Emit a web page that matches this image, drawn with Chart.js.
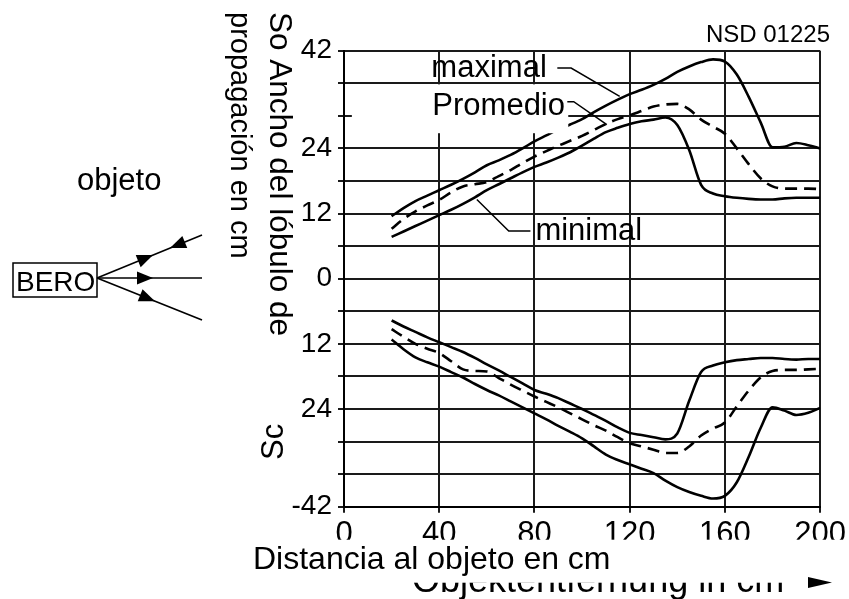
<!DOCTYPE html>
<html lang="es">
<head>
<meta charset="UTF-8">
<title>Ancho del lóbulo de propagación</title>
<script src="https://cdn.jsdelivr.net/npm/chart.js"></script>
<style>
  body { margin: 0; background: #fff; }
  #wrap { width: 849px; height: 599px; }
</style>
</head>
<body>
<div id="wrap"><canvas id="grafico" width="849" height="599"></canvas></div>
<script>
// distancia al objeto en cm (eje x)
const distancias = [20, 25, 30, 35, 40, 45, 50, 55, 60, 65, 70, 75, 80, 85, 90, 95, 100, 105, 110,
  115, 120, 125, 130, 135, 140, 145, 150, 155, 160, 165, 170, 175, 180, 185, 190, 195, 200];

// So: mitad superior
const maximalSo = [11.5, 13.0, 14.3, 15.3, 16.3, 17.3, 18.4, 19.6, 20.9, 21.8, 22.8, 24.0, 25.3, 26.4, 27.5, 28.4, 29.4, 30.7, 31.9,
  33.0, 34.0, 34.8, 35.7, 36.8, 38.1, 39.1, 39.9, 40.4, 40.0, 37.6, 33.5, 28.8, 24.2, 24.3, 25.0, 24.6, 24.0];
const promedioSo = [9.2, 11.0, 12.4, 13.5, 14.5, 15.9, 17.0, 17.4, 17.8, 18.9, 20.0, 21.3, 22.5, 23.5, 24.5, 25.4, 26.3, 27.4, 28.5,
  29.4, 30.1, 30.9, 31.7, 32.1, 32.2, 31.2, 29.3, 28.0, 26.7, 24.0, 21.1, 18.5, 17.0, 16.6, 16.6, 16.6, 16.5];
const minimalSo = [7.7, 8.7, 9.7, 10.7, 11.7, 12.7, 13.8, 15.0, 16.3, 17.4, 18.5, 19.6, 20.6, 21.4, 22.3, 23.3, 24.5, 25.8, 27.0,
  27.8, 28.5, 29.0, 29.3, 29.7, 28.3, 23.7, 17.3, 15.7, 15.2, 14.9, 14.7, 14.6, 14.6, 14.8, 14.9, 14.9, 14.9];

// Sc: mitad inferior
const minimalSc = [-7.7, -8.8, -9.8, -10.8, -11.7, -12.6, -13.5, -14.6, -15.8, -16.9, -18.1, -19.3, -20.5, -21.2, -22.0, -23.0, -24.0, -25.1, -26.2,
  -27.4, -28.4, -28.8, -29.2, -29.6, -28.5, -22.5, -17.2, -16.0, -15.4, -15.0, -14.8, -14.6, -14.6, -14.8, -14.9, -14.8, -14.8];
const promedioSc = [-9.3, -10.7, -12.0, -12.9, -13.7, -15.2, -16.7, -17.0, -17.1, -18.3, -19.5, -20.6, -21.7, -22.7, -23.7, -24.8, -25.9, -27.0, -28.0,
  -29.2, -30.3, -30.9, -31.5, -32.1, -32.1, -30.9, -28.9, -27.6, -26.5, -23.5, -20.6, -18.2, -17.0, -16.8, -16.8, -16.7, -16.6];
const maximalSc = [-11.2, -13.0, -14.5, -15.4, -16.2, -17.2, -18.2, -19.4, -20.5, -21.5, -22.6, -23.7, -24.8, -25.9, -27.1, -28.2, -29.4, -30.9, -32.4,
  -33.4, -34.2, -35.0, -35.8, -37.2, -38.4, -39.3, -40.0, -40.5, -40.0, -37.5, -32.8, -27.5, -23.7, -24.3, -25.1, -24.7, -23.8];

// etiquetas del eje y (las de abajo van sin signo, como en el original)
const ticksEjeY = [42, 24, 12, 0, -12, -24, -42];
const etiquetasEjeY = ['42', '24', '12', '0', '12', '24', '-42'];

const FAMILIA = '"Liberation Sans", Arial, sans-serif';
const fuente = s => s + 'px ' + FAMILIA;

function serie(valores, discontinua) {
  return {
    data: distancias.map((d, i) => ({ x: d, y: valores[i] })),
    borderColor: '#000',
    borderWidth: 2.6,
    borderDash: discontinua ? [12, 7] : [],
    pointRadius: 0,
    cubicInterpolationMode: 'monotone',
    fill: false
  };
}

function flecha(ctx, x, y, ang, largo, ancho) {
  ctx.save();
  ctx.translate(x, y);
  ctx.rotate(ang);
  ctx.beginPath();
  ctx.moveTo(0, 0);
  ctx.lineTo(-largo, -ancho);
  ctx.lineTo(-largo, ancho);
  ctx.closePath();
  ctx.fill();
  ctx.restore();
}

function textoGirado(ctx, txt, x, y, ang, tam) {
  ctx.save();
  ctx.translate(x, y);
  ctx.rotate(ang);
  ctx.font = fuente(tam);
  ctx.textAlign = 'left';
  ctx.textBaseline = 'alphabetic';
  ctx.fillText(txt, 0, 0);
  ctx.restore();
}

const decoracion = {
  id: 'decoracion',
  afterDraw(chart) {
    const ctx = chart.ctx;
    const sx = chart.scales.x, sy = chart.scales.y;
    const px = v => sx.getPixelForValue(v);
    const py = v => sy.getPixelForValue(v);
    const area = chart.chartArea;

    ctx.save();
    ctx.fillStyle = '#fff';
    // recuadro blanco tapando la rejilla detrás de "Promedio"
    ctx.fillRect(px(3.3), py(35.8), px(94.2) - px(3.3), py(26.8) - py(35.8));

    ctx.fillStyle = '#000';
    ctx.strokeStyle = '#000';
    ctx.textBaseline = 'alphabetic';
    ctx.textAlign = 'left';

    // rótulos de las curvas
    ctx.font = fuente(31);
    ctx.fillText('maximal', px(36.7), py(37.2));
    ctx.fillText('Promedio', px(37.1), py(30.2));
    ctx.fillText('minimal', px(80.4), py(7.1));

    ctx.lineWidth = 1.5;
    const guia = pts => {
      ctx.beginPath();
      pts.forEach((p, i) => i ? ctx.lineTo(px(p[0]), py(p[1])) : ctx.moveTo(px(p[0]), py(p[1])));
      ctx.stroke();
    };
    guia([[89.6, 38.8], [95.4, 38.8], [115.8, 33.6]]);
    guia([[93.8, 32.6], [96.5, 32.6], [110.4, 28.4]]);
    guia([[78.3, 8.8], [69.2, 8.8], [55.8, 14.6]]);

    // referencia
    ctx.font = fuente(24);
    ctx.textAlign = 'right';
    ctx.fillText('NSD 01225', 830, 42);

    // títulos del eje y
    textoGirado(ctx, 'So Ancho del lóbulo de', 270, 12, Math.PI / 2, 31.5);
    textoGirado(ctx, 'propagación en cm', 231, 12, Math.PI / 2, 29);
    textoGirado(ctx, 'Sc', 283, 460, -Math.PI / 2, 31);

    // título del eje x: el alemán queda medio tapado por el español
    ctx.textAlign = 'left';
    ctx.font = fuente(36);
    ctx.fillText('Objektentfernung in cm', 412, 592);
    ctx.fillStyle = '#fff';
    ctx.fillRect(250, area.bottom + 33, 599, 43);
    ctx.fillStyle = '#000';
    ctx.font = fuente(32);
    ctx.fillText('Distancia al objeto en cm', 253, 569);
    flecha(ctx, 832, 582.5, 0, 24, 5.5);

    // esquema del sensor
    ctx.font = fuente(31);
    ctx.fillText('objeto', 77, 190);
    ctx.lineWidth = 1.5;
    ctx.strokeRect(13, 263, 84, 34);
    ctx.font = fuente(28);
    ctx.fillText('BERO', 16, 291);
    ctx.lineWidth = 1.6;
    const o = [97, 278];
    const fines = [[202, 235], [202, 278], [202, 320]];
    fines.forEach(f => {
      ctx.beginPath();
      ctx.moveTo(o[0], o[1]);
      ctx.lineTo(f[0], f[1]);
      ctx.stroke();
    });
    const a1 = Math.atan2(235 - 278, 105);
    const a3 = Math.atan2(320 - 278, 105);
    flecha(ctx, 153, 278 + (235 - 278) * 56 / 105, a1, 16, 6.5);
    flecha(ctx, 170, 278 + (235 - 278) * 73 / 105, a1 + Math.PI, 16, 6.5);
    flecha(ctx, 153, 278, 0, 16, 6.5);
    flecha(ctx, 155, 278 + (320 - 278) * 58 / 105, a3, 16, 6.5);
    ctx.restore();
  }
};

new Chart(document.getElementById('grafico'), {
  type: 'line',
  data: {
    datasets: [
      serie(maximalSo, false),
      serie(promedioSo, true),
      serie(minimalSo, false),
      serie(minimalSc, false),
      serie(promedioSc, true),
      serie(maximalSc, false)
    ]
  },
  options: {
    responsive: false,
    animation: false,
    layout: { padding: { top: 50.7, right: 25, bottom: 0, left: 0 } },
    plugins: { legend: { display: false }, tooltip: { enabled: false } },
    scales: {
      x: {
        type: 'linear',
        min: 0,
        max: 200,
        afterFit: s => { s.height = 92.3; },
        ticks: { stepSize: 40, color: '#000', padding: 3, font: { family: FAMILIA, size: 31 }, maxRotation: 0 },
        grid: { color: '#1a1a1a', lineWidth: 2, tickLength: 6 },
        border: { display: true, color: '#000', width: 2 }
      },
      y: {
        type: 'linear',
        min: -42,
        max: 42,
        afterFit: s => { s.width = 344; },
        ticks: {
          stepSize: 6,
          autoSkip: false,
          color: '#000',
          padding: 6,
          font: { family: FAMILIA, size: 28 },
          callback: v => {
            const i = ticksEjeY.indexOf(v);
            return i >= 0 ? etiquetasEjeY[i] : '';
          }
        },
        grid: { color: '#1a1a1a', lineWidth: 2, tickLength: 6 },
        border: { display: true, color: '#000', width: 2 }
      }
    }
  },
  plugins: [decoracion]
});
</script>
</body>
</html>
